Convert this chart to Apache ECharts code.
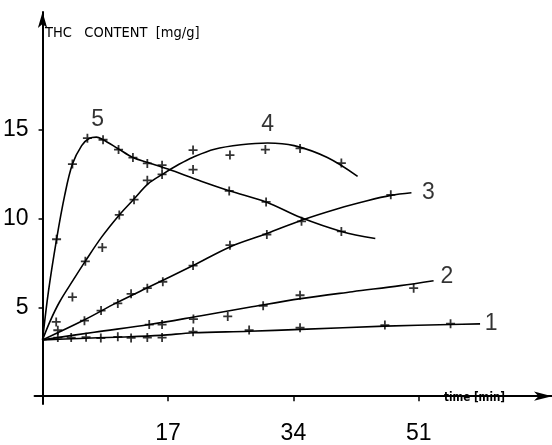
<!DOCTYPE html>
<html><head><meta charset="utf-8">
<script src="https://cdn.jsdelivr.net/npm/echarts@6/dist/echarts.min.js"></script>
<style>html,body{margin:0;padding:0;background:#fff}#c{width:552px;height:445px}</style>
</head><body><div id="c"></div>
<script>
// ---- data (time in min, THC content in mg/g) ----
const xTicks = [17, 34, 51];
const yTicks = [5, 10, 15];

// fitted curves
const curve1 = [[0,3.17],[5,3.25],[10,3.32],[16,3.42],[20.4,3.57],[28,3.65],[35,3.76],[46.4,3.94],[55.3,4.03],[59.3,4.07]];
const curve2 = [[0,3.17],[7,3.6],[14.5,4.03],[21.5,4.53],[28,5.0],[35,5.49],[42,5.88],[48.5,6.22],[53,6.5]];
const curve3 = [[0,3.17],[5.7,4.3],[10,5.25],[14.2,6.1],[20.4,7.35],[25.4,8.4],[30.4,9.15],[35.1,9.9],[40,10.55],[44,11.0],[47.2,11.3],[50,11.45]];
const curve4 = [[0,3.17],[1,4.2],[2.3,5.3],[4.1,6.5],[5.8,7.6],[8,8.95],[10.4,10.2],[12.4,11.1],[14.3,11.95],[16.3,12.5],[18.5,13.05],[20.4,13.45],[23.3,13.9],[26.9,14.15],[30.5,14.25],[34.1,14.1],[38.6,13.43],[42.7,12.37]];
const curve5 = [[0,3.17],[0.8,5.9],[1.9,8.83],[3,11.3],[4.05,13.06],[5.3,14.1],[6.3,14.5],[7.3,14.58],[8.2,14.43],[10.2,13.94],[12.25,13.43],[14.3,13.15],[17,12.78],[21.5,12.1],[25.4,11.55],[30.3,10.93],[35,10.05],[40.5,9.27],[45.1,8.87]];

// measured points
const points1 = [[2.07,3.30],[3.88,3.30],[5.9,3.32],[7.9,3.27],[10.2,3.34],[12.0,3.28],[14.2,3.30],[16.2,3.30],[20.4,3.63],[28.0,3.72],[34.9,3.85],[46.4,4.0],[55.3,4.08]];
const points2 = [[2.07,3.71],[14.46,4.03],[16.2,4.03],[20.45,4.34],[25.1,4.49],[29.9,5.09],[34.9,5.68],[50.3,6.08]];
const points3 = [[5.68,4.25],[7.93,4.82],[10.2,5.22],[12.0,5.76],[14.2,6.08],[16.3,6.44],[20.4,7.35],[25.4,8.5],[30.4,9.1],[35.1,9.84],[47.2,11.33]];
const points4 = [[1.85,4.18],[4.05,5.58],[5.8,7.59],[8.1,8.37],[10.4,10.2],[12.4,11.06],[14.2,12.15],[16.2,12.48],[20.4,12.75],[20.4,13.85],[25.4,13.57],[30.2,13.88],[34.9,13.94],[40.5,13.12]];
const points5 = [[1.9,8.83],[4.05,13.06],[6.08,14.52],[8.2,14.43],[10.3,13.88],[12.25,13.43],[14.2,13.1],[16.2,13.0],[25.3,11.55],[30.3,10.93],[40.5,9.27]];

// curve numbers: [time, content, text]
const curveLabels = [[60.8,4.1,'1'],[54.8,6.73,'2'],[52.3,11.44,'3'],[30.5,15.27,'4'],[7.47,15.54,'5']];

const yAxisTitle = 'THC   CONTENT  [mg/g]';
const xAxisTitle = 'time [min]';

// ---- chart ----
const NUMFONT = "'Liberation Sans',sans-serif";
const TXTFONT = "'DejaVu Sans Condensed',sans-serif";
const PLUS = 'path://M4,0H6V4H10V6H6V10H4V6H0V4H4Z';
const curves = [curve1, curve2, curve3, curve4, curve5];
const points = [points1, points2, points3, points4, points5];

const series = [];
curves.forEach(c => series.push({
  type: 'line', data: c, smooth: 0.35, symbol: 'none',
  lineStyle: {color: '#000', width: 1.6}, z: 3, silent: true
}));
points.forEach(p => series.push({
  type: 'scatter', data: p, symbol: PLUS, symbolSize: 9,
  itemStyle: {color: '#000'}, z: 4, silent: true
}));
series.push({
  type: 'scatter', data: curveLabels, symbolSize: 0, z: 5, silent: true,
  label: {show: true, position: 'inside', formatter: p => p.value[2],
          color: '#000', fontSize: 23, fontFamily: NUMFONT}
});

const chart = echarts.init(document.getElementById('c'), null, {renderer: 'canvas'});
chart.setOption({
  animation: false,
  backgroundColor: '#fff',
  grid: {left: 33, right: 0, top: 12, bottom: 30, containLabel: false},
  xAxis: {
    type: 'value', min: -1.08, max: 69.05,
    axisLine: {onZero: true, lineStyle: {color: '#000', width: 2}, symbol: ['none','arrow'], symbolSize: [7, 18]},
    axisTick: {show: true, customValues: xTicks, length: 5, inside: false, lineStyle: {color: '#000', width: 1.5}},
    axisLabel: {customValues: xTicks, margin: 18, color: '#000', fontSize: 23, fontFamily: NUMFONT},
    splitLine: {show: false}
  },
  yAxis: {
    type: 'value', min: -0.44, max: 21.62,
    axisLine: {onZero: true, lineStyle: {color: '#000', width: 2}, symbol: ['none','arrow'], symbolSize: [7, 16]},
    axisTick: {show: true, customValues: yTicks, length: 4, lineStyle: {color: '#000', width: 1.5}},
    axisLabel: {customValues: yTicks, margin: 6, color: '#000', fontSize: 23, fontFamily: NUMFONT},
    splitLine: {show: false}
  },
  graphic: [
    {type: 'text', left: 45, top: 26, style: {text: yAxisTitle, fontSize: 14.5, fontFamily: TXTFONT, fill: '#000'}},
    {type: 'text', left: 444, top: 392, style: {text: xAxisTitle, fontSize: 11.5, fontWeight: 'bold', fontFamily: TXTFONT, fill: '#000'}}
  ],
  series: series
});
</script></body></html>
